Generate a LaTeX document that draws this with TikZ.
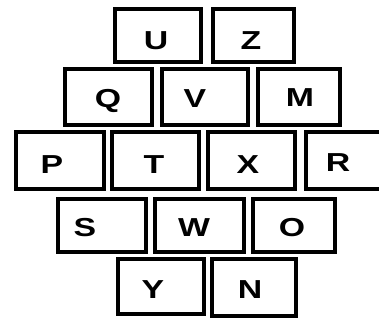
\documentclass[tikz,border=0pt]{standalone}
\usepackage{fontspec}
\setmainfont{Liberation Sans}
\newcommand{\wideltr}[1]{\scalebox{1.3}[1]{#1}}
\begin{document}
\begin{tikzpicture}[x=1pt,y=1pt,
  kbox/.style={draw=black, line width=4pt, fill=white, inner sep=0pt, outer sep=0pt},
  klet/.style={inner sep=0pt, text height=18.6pt, text depth=0pt,
    font=\fontsize{26}{26}\selectfont\bfseries}]
\useasboundingbox (0,0) rectangle (379,320);
\clip (0,0) rectangle (379,320);
% boxes
\node[kbox, minimum width=86pt, minimum height=53pt] (bU) at (158,284.5) {};
\node[kbox, minimum width=81pt, minimum height=53pt] (bZ) at (253.5,284.5) {};
\node[kbox, minimum width=87pt, minimum height=56pt] (bQ) at (108.5,223) {};
\node[kbox, minimum width=86pt, minimum height=56pt] (bV) at (205,223) {};
\node[kbox, minimum width=82pt, minimum height=56pt] (bM) at (299,223) {};
\node[kbox, minimum width=88pt, minimum height=57pt] (bP) at (60,159.5) {};
\node[kbox, minimum width=87pt, minimum height=57pt] (bT) at (155.5,159.5) {};
\node[kbox, minimum width=87pt, minimum height=57pt] (bX) at (251.5,159.5) {};
\node[kbox, minimum width=92pt, minimum height=57pt] (bR) at (352,159.5) {};
\node[kbox, minimum width=88pt, minimum height=53pt] (bS) at (102,94.5) {};
\node[kbox, minimum width=89pt, minimum height=53pt] (bW) at (199.5,94.5) {};
\node[kbox, minimum width=82pt, minimum height=53pt] (bO) at (294,94.5) {};
\node[kbox, minimum width=86pt, minimum height=55pt] (bY) at (161,33.5) {};
\node[kbox, minimum width=84pt, minimum height=57pt] (bN) at (254,32.5) {};
% letters
\node[klet] (lU) at (156,280) {\wideltr{U}};
\node[klet] (lZ) at (251,280) {\wideltr{Z}};
\node[klet] (lQ) at (108,222) {\wideltr{Q}};
\node[klet] (lV) at (195,222) {\wideltr{V}};
\node[klet] (lM) at (300,223) {\wideltr{M}};
\node[klet] (lP) at (52,156) {\wideltr{P}};
\node[klet] (lT) at (154,156) {\wideltr{T}};
\node[klet] (lX) at (248,156) {\wideltr{X}};
\node[klet] (lR) at (338,158) {\wideltr{R}};
\node[klet] (lS) at (85,93) {\wideltr{S}};
\node[klet] (lW) at (194,93) {\wideltr{W}};
\node[klet] (lO) at (292,93) {\wideltr{O}};
\node[klet] (lY) at (153,31) {\wideltr{Y}};
\node[klet] (lN) at (250,31) {\wideltr{N}};
\end{tikzpicture}
\end{document}
